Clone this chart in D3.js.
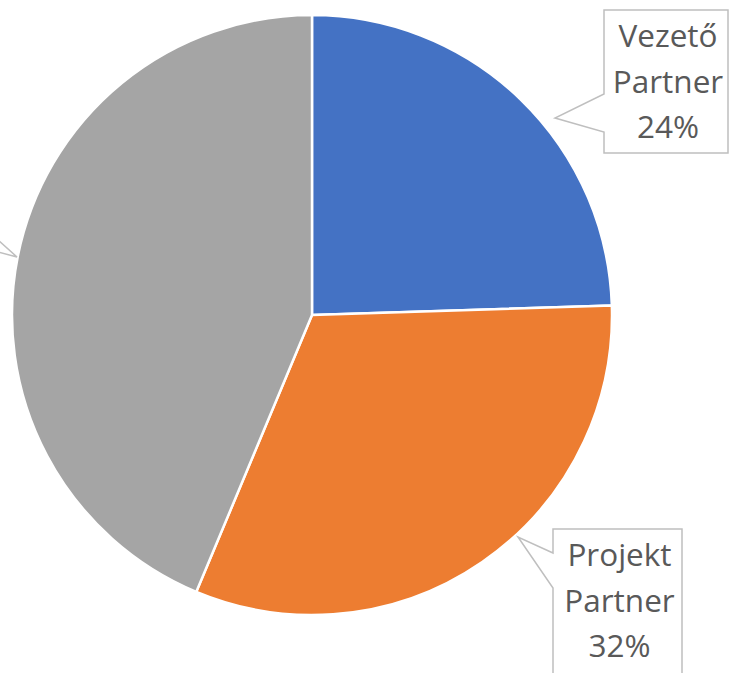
<!DOCTYPE html>
<html>
<head>
<meta charset="utf-8">
<script src="https://cdn.jsdelivr.net/npm/d3@7"></script>
<style>
  html, body { margin: 0; padding: 0; background: #fff; overflow: hidden; }
  svg { display: block; }
</style>
</head>
<body>
<svg id="chart" width="731" height="673"></svg>
<script>
// data
const categories = ["Vezető Partner", "Projekt Partner", "Partner"];
const values = [24.49, 31.81, 43.7];
const colors = ["#4472C4", "#ED7D31", "#A5A5A5"];
const showText = [true, true, false]; // third label sits outside the visible area

// callout layout (box: x, y, w, h ; pointer base on box edge, tip point)
const callouts = [
    { box: [604, 10, 124, 143], base: [94, 132], side: "left", tip: [555, 118] },
    { box: [553, 529, 129, 160], base: [553, 588], side: "left", tip: [518, 537] },
    { box: [-140, 170, 138, 143], base: [240, 252], side: "right", tip: [17, 257] }
];

const W = 731, H = 673;
const cx = 312, cy = 315, R = 300;

const svg = d3.select("#chart");
const total = d3.sum(values);

const pie = d3.pie().sort(null).value(d => d)(values);
const arc = d3.arc().innerRadius(0).outerRadius(R);

const g = svg.append("g").attr("transform", `translate(${cx},${cy})`);

g.selectAll("path.slice")
    .data(pie)
    .enter()
    .append("path")
    .attr("class", "slice")
    .attr("d", arc)
    .attr("fill", (d, i) => colors[i])
    .attr("stroke", "#fff")
    .attr("stroke-width", 2.5)
    .attr("stroke-linejoin", "round");

// callouts
function calloutPath(c) {
    const [x, y, w, h] = c.box;
    const [b1, b2] = c.base;
    const [tx, ty] = c.tip;
    if (c.side === "left") {
        return `M${x},${y} L${x + w},${y} L${x + w},${y + h} L${x},${y + h} L${x},${b2} L${tx},${ty} L${x},${b1} Z`;
    }
    return `M${x},${y} L${x + w},${y} L${x + w},${b1} L${tx},${ty} L${x + w},${b2} L${x + w},${y + h} L${x},${y + h} Z`;
}

const labels = svg.append("g");

callouts.forEach((c, i) => {
    labels.append("path")
        .attr("d", calloutPath(c))
        .attr("fill", "#fff")
        .attr("stroke", "#BFBFBF")
        .attr("stroke-width", 1.5);

    if (!showText[i]) return;
    const pct = Math.round(values[i] / total * 100) + "%";
    const lines = categories[i].split(" ").concat([pct]);
    const [x, y, w, h] = c.box;
    const lh = 45.5;
    const first = y + 37;
    const t = labels.append("text")
        .attr("text-anchor", "middle")
        .attr("font-family", "'Open Sans', sans-serif")
        .attr("font-size", 31.5)
        .attr("fill", "#595959");
    lines.forEach((s, k) => {
        t.append("tspan")
            .attr("x", x + w / 2 + 2)
            .attr("y", first + k * lh)
            .text(s);
    });
});
</script>
</body>
</html>
